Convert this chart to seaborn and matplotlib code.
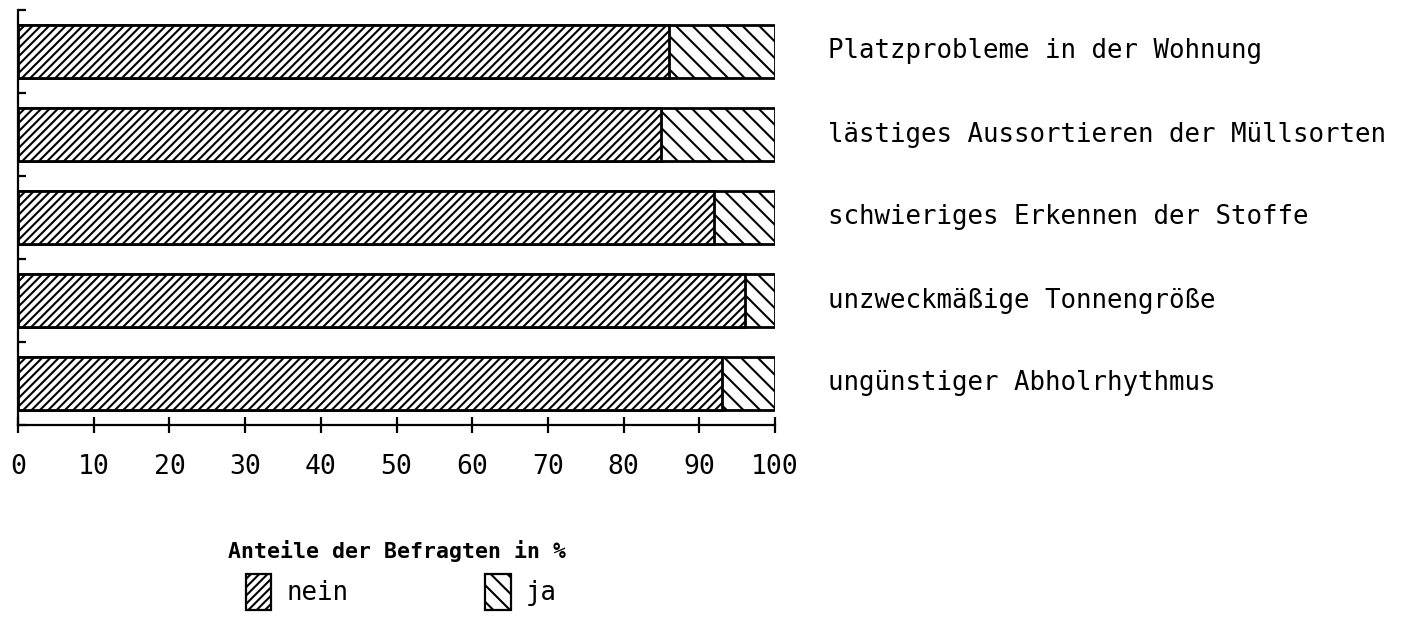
import matplotlib
matplotlib.use("Agg")
import matplotlib.pyplot as plt
from matplotlib.patches import Patch
import seaborn as sns
import pandas as pd

categories = [
    "Platzprobleme in der Wohnung",
    "lästiges Aussortieren der Müllsorten",
    "schwieriges Erkennen der Stoffe",
    "unzweckmäßige Tonnengröße",
    "ungünstiger Abholrhythmus",
]
nein = [86, 85, 92, 96, 93]
ja = [14, 15, 8, 4, 7]
series_labels = ["nein", "ja"]
xticks = [0, 10, 20, 30, 40, 50, 60, 70, 80, 90, 100]
xlabel = "Anteile der Befragten in %"

sns.set_theme(style="white")
plt.rcParams["font.family"] = ["DejaVu Sans Mono", "DejaVu Sans"]
plt.rcParams["hatch.linewidth"] = 1.5
plt.rcParams["hatch.color"] = "black"
plt.rcParams["text.color"] = "black"
plt.rcParams["axes.labelcolor"] = "black"

df = pd.DataFrame({
    "Kategorie": categories,
    "nein": nein,
    "ja": ja,
})
df["gesamt"] = df["nein"] + df["ja"]

fig = plt.figure(figsize=(14.08, 6.19), dpi=100)
ax = fig.add_axes([18 / 1408, 1 - 425 / 619, (775 - 18) / 1408, (425 - 10) / 619])

# total bars (ja portion visible on the right)
sns.barplot(data=df, x="gesamt", y="Kategorie", orient="h", ax=ax,
            color="white", edgecolor="black", linewidth=2.0, width=0.64,
            hatch="\\\\", saturation=1)
# nein bars drawn on top
sns.barplot(data=df, x="nein", y="Kategorie", orient="h", ax=ax,
            color="white", edgecolor="black", linewidth=2.0, width=0.64,
            hatch="////", saturation=1)

for p in ax.patches:
    p.set_facecolor("white")
    p.set_edgecolor("black")

ax.set_xlim(0, 100)
ax.set_ylim(len(categories) - 0.5, -0.5)
ax.set_xticks(xticks)
ax.set_xticklabels([str(t) for t in xticks], fontsize=19)
ax.set_yticks([i - 0.5 for i in range(len(categories) + 1)])
ax.set_yticklabels([])
ax.set_ylabel("")
ax.set_xlabel(xlabel, fontsize=15.5, fontweight="bold", labelpad=43, color="black")

for s in ["top", "right"]:
    ax.spines[s].set_visible(False)
for s in ["left", "bottom"]:
    ax.spines[s].set_linewidth(1.6)
    ax.spines[s].set_color("black")

ax.tick_params(axis="x", bottom=True, direction="inout", length=12, width=1.6,
               colors="black", pad=15)
ax.tick_params(axis="y", left=True, direction="in", length=6, width=1.6, colors="black")
ax.tick_params(axis="x", labelcolor="black")

for i, cat in enumerate(categories):
    ax.text(1.07, i, cat, transform=ax.get_yaxis_transform(), ha="left", va="center",
            fontsize=18.5, color="black", clip_on=False)

handles = [
    Patch(facecolor="white", edgecolor="black", hatch="////", linewidth=1.6, label=series_labels[0]),
    Patch(facecolor="white", edgecolor="black", hatch="\\\\", linewidth=1.6, label=series_labels[1]),
]
fig.legend(handles=handles, loc="center", bbox_to_anchor=(0.285, 0.044), ncol=2,
           frameon=False, fontsize=18.5, handlelength=1.0, handleheight=1.8,
           handletextpad=0.6, columnspacing=5.3, labelcolor="black")

fig.savefig("out.png", dpi=100)
